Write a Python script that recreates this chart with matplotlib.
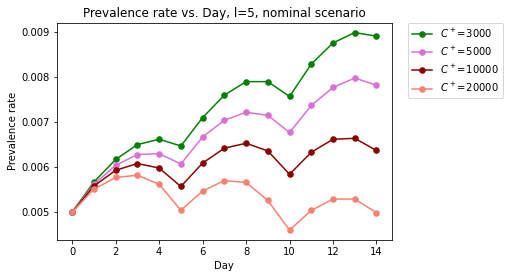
import matplotlib
matplotlib.use("Agg")
import matplotlib.pyplot as plt

days = list(range(15))
c_values = [3000, 5000, 10000, 20000]
colors = ["green", "orchid", "darkred", "salmon"]

prev_3000 = [0.0050, 0.00567, 0.00617, 0.00650, 0.00662, 0.00647, 0.00710, 0.00760,
             0.00790, 0.00790, 0.00757, 0.00829, 0.00876, 0.00899, 0.00891]
prev_5000 = [0.0050, 0.00562, 0.00604, 0.00628, 0.00630, 0.00607, 0.00667, 0.00704,
             0.00722, 0.00715, 0.00677, 0.00737, 0.00777, 0.00798, 0.00782]
prev_10000 = [0.0050, 0.00558, 0.00593, 0.00608, 0.00598, 0.00557, 0.00609, 0.00642,
              0.00653, 0.00636, 0.00584, 0.00633, 0.00662, 0.00664, 0.00637]
prev_20000 = [0.0050, 0.00551, 0.00577, 0.00582, 0.00562, 0.00504, 0.00547, 0.00570,
              0.00566, 0.00526, 0.00460, 0.00504, 0.00529, 0.00529, 0.00499]

series = [prev_3000, prev_5000, prev_10000, prev_20000]

fig = plt.figure(figsize=(509 / 72, 278 / 72), dpi=72)
ax = fig.add_axes([57 / 509, 1 - 240 / 278, (391.7 - 57) / 509, (240 - 22.7) / 278])

for c, vals, col in zip(c_values, series, colors):
    ax.plot(days, vals, marker="o", color=col, markersize=5.5, lw=1.5,
            label=rf"$C^+\!=\!{c}$")

ax.set_xticks(range(0, 15, 2))
ax.set_yticks([0.005, 0.006, 0.007, 0.008, 0.009])
ax.set_xlabel("Day", fontsize=10)
ax.set_ylabel("Prevalence rate", fontsize=10)
ax.set_title("Prevalence rate vs. Day, l=5, nominal scenario", fontsize=12)
ax.tick_params(labelsize=10)
ax.legend(loc="upper left", bbox_to_anchor=(1.05, 1.0), borderaxespad=0, fontsize=10)

fig.savefig("out.png", dpi=72)
